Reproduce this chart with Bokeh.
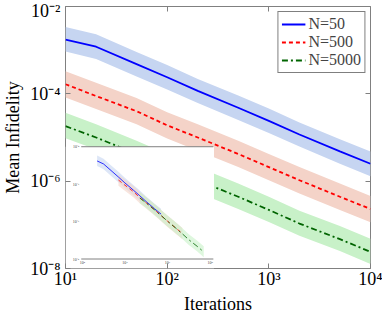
import numpy as np
from bokeh.plotting import figure
from bokeh.models import (Range1d, LogScale, LogAxis, FixedTicker, Legend, LegendItem,
                          ColumnDataSource, CustomJSTickFormatter, Title)
from bokeh.embed import file_html
from bokeh.resources import INLINE
from bokeh.core.properties import value

# ---------------- data ----------------
iterations = [10, 20, 50, 100, 200, 500, 1000, 2000, 5000, 10000]
series_names = ["N=50", "N=500", "N=5000"]
N_values = [50, 500, 5000]

mean_n50 = [1.74e-3, 1.2e-3, 4.8e-4, 2.4e-4, 1.17e-4, 4.8e-5, 2.4e-5, 1.17e-5, 4.8e-6, 2.5e-6]
upper_n50 = [3.4e-3, 2.3e-3, 9.1e-4, 4.6e-4, 2.2e-4, 9.1e-5, 4.6e-5, 2.2e-5, 9.1e-6, 4.8e-6]
lower_n50 = [9.3e-4, 6.3e-4, 2.5e-4, 1.26e-4, 6.2e-5, 2.5e-5, 1.26e-5, 6.2e-6, 2.5e-6, 1.3e-6]

mean_n500 = [1.66e-4, 8.9e-5, 4.0e-5, 1.9e-5, 1.0e-5, 4.2e-6, 2.1e-6, 1.05e-6, 4.4e-7, 2.3e-7]
upper_n500 = [3.3e-4, 1.8e-4, 8.0e-5, 3.8e-5, 2.0e-5, 8.4e-6, 4.2e-6, 2.1e-6, 8.8e-7, 4.6e-7]
lower_n500 = [8.2e-5, 4.5e-5, 2.0e-5, 9.5e-6, 5.0e-6, 2.1e-6, 1.05e-6, 5.2e-7, 2.2e-7, 1.15e-7]

mean_n5000 = [1.82e-5, 1.0e-5, 4.2e-6, 2.1e-6, 1.05e-6, 4.4e-7, 2.2e-7, 1.07e-7, 4.7e-8, 2.4e-8]
upper_n5000 = [3.7e-5, 2.0e-5, 8.4e-6, 4.2e-6, 2.1e-6, 8.8e-7, 4.4e-7, 2.1e-7, 9.4e-8, 4.8e-8]
lower_n5000 = [9.6e-6, 5.3e-6, 2.2e-6, 1.1e-6, 5.5e-7, 2.3e-7, 1.16e-7, 5.6e-8, 2.5e-8, 1.26e-8]

x_ticks = [10, 100, 1000, 10000]
x_tick_labels = ["10¹", "10²", "10³", "10⁴"]
y_ticks = [1e-8, 1e-6, 1e-4, 1e-2]
y_tick_labels = ["10⁻⁸", "10⁻⁶", "10⁻⁴", "10⁻²"]
x_title = "Iterations"
y_title = "Mean Infidelity"

# inset: infidelity against iterations x N
inset_x_ticks = [1e2, 1e4, 1e6, 1e8]
inset_x_labels = ["10²", "10⁴", "10⁶", "10⁸"]
inset_y_ticks = [1e-2, 1e-4, 1e-6, 1e-8]
inset_y_labels = ["10⁻²", "10⁻⁴", "10⁻⁶", "10⁻⁸"]

# ---------------- styles ----------------
line_colors = ["#0000ff", "#ff0000", "#006400"]
band_colors = ["#c6d5f1", "#f4d3c8", "#c8f1c8"]
dashes = ["solid", "4 3", "6 3 2 3"]
FONT = "Liberation Serif"

p = figure(width=382, height=313, x_axis_type="log", y_axis_type="log",
           x_range=Range1d(10, 1e4), y_range=Range1d(1e-8, 1e-2),
           output_backend="svg", toolbar_location=None,
           min_border_left=60, min_border_right=12, min_border_top=6, min_border_bottom=0)
p.grid.visible = False
p.outline_line_color = "#808080"
p.outline_line_width = 1
p.background_fill_color = "white"
p.border_fill_color = "white"

# inset coordinate system (log-log) placed in lower-left of the frame
p.extra_x_ranges = {"inset": Range1d(10 ** 1.2155, 10 ** 15.52)}
p.extra_y_ranges = {"inset": Range1d(10 ** -8.507, 10 ** 5.493)}
p.extra_x_scales = {"inset": LogScale()}
p.extra_y_scales = {"inset": LogScale()}

means = [mean_n50, mean_n500, mean_n5000]
uppers = [upper_n50, upper_n500, upper_n5000]
lowers = [lower_n50, lower_n500, lower_n5000]

line_renderers = []
for i in range(3):
    src = ColumnDataSource(dict(x=iterations, lo=lowers[i], hi=uppers[i]))
    p.varea(x="x", y1="lo", y2="hi", source=src, fill_color=band_colors[i], fill_alpha=1.0)
for i in range(3):
    src = ColumnDataSource(dict(x=iterations, m=means[i]))
    r = p.line(x="x", y="m", source=src, line_color=line_colors[i], line_width=1.8,
               line_dash=dashes[i])
    line_renderers.append(r)

# inset white background
p.quad(left=10 ** 1.2155, right=10 ** 8.18, bottom=10 ** -8.507, top=1e-2,
       x_range_name="inset", y_range_name="inset", fill_color="white", line_color=None)

for i in range(3):
    xs = np.array(iterations) * N_values[i]
    src = ColumnDataSource(dict(x=xs, lo=lowers[i], hi=uppers[i]))
    p.varea(x="x", y1="lo", y2="hi", source=src, fill_color=band_colors[i], fill_alpha=0.6,
            x_range_name="inset", y_range_name="inset")
for i in range(3):
    xs = np.array(iterations) * N_values[i]
    src = ColumnDataSource(dict(x=xs, m=means[i]))
    p.line(x="x", y="m", source=src, line_color=line_colors[i], line_width=0.8,
           line_dash=dashes[i], x_range_name="inset", y_range_name="inset")

# inset axis lines and labels
p.segment(x0=[10 ** 1.954] * 2, x1=[10 ** 8.15] * 2, y0=[1e-2, 1e-8], y1=[1e-2, 1e-8],
          x_range_name="inset", y_range_name="inset", line_color="#808080", line_width=1)
p.text(x=[10 ** 1.86] * 4, y=inset_y_ticks, text=inset_y_labels, x_range_name="inset",
       y_range_name="inset", text_font=value(FONT), text_font_size="4px",
       text_align="right", text_baseline="middle", text_color="#444444")
p.text(x=inset_x_ticks, y=[10 ** -8.187] * 4, text=inset_x_labels, x_range_name="inset",
       y_range_name="inset", text_font=value(FONT), text_font_size="4px",
       text_align="center", text_baseline="middle", text_color="#444444")

# main axes
xa = p.xaxis[0]
ya = p.yaxis[0]
xa.ticker = FixedTicker(ticks=x_ticks)
ya.ticker = FixedTicker(ticks=y_ticks)
xa.major_label_overrides = {t: l for t, l in zip(x_ticks, x_tick_labels)}
ya.major_label_overrides = {t: l for t, l in zip(y_ticks, y_tick_labels)}
for ax in (xa, ya):
    ax.axis_line_color = None
    ax.major_tick_in = 5
    ax.major_tick_out = 0
    ax.major_tick_line_color = "#808080"
    ax.minor_tick_line_color = None
    ax.major_label_text_font = FONT
    ax.major_label_text_font_size = "18px"
    ax.major_label_text_color = "black"
    ax.axis_label_text_font = FONT
    ax.axis_label_text_font_size = "18px"
    ax.axis_label_text_font_style = "normal"
    ax.axis_label_text_color = "black"
ya.axis_label = y_title
xa.major_label_standoff = 0
ya.major_label_standoff = 5
ya.axis_label_standoff = 4

# x-axis title as a title panel below the axis
p.add_layout(Title(text=x_title, align="center", text_font=FONT, text_font_size="18px",
                   text_font_style="normal", text_color="black", standoff=0), "below")

# mirror ticks on top and right
for side, tick in (("above", x_ticks), ("right", y_ticks)):
    ax = LogAxis(ticker=FixedTicker(ticks=tick), formatter=CustomJSTickFormatter(code="return ''"))
    ax.axis_line_color = None
    ax.major_tick_in = 5
    ax.major_tick_out = 0
    ax.major_tick_line_color = "#808080"
    ax.minor_tick_line_color = None
    ax.major_label_standoff = 0
    ax.major_label_text_font_size = "1px"
    p.add_layout(ax, side)

legend = Legend(items=[LegendItem(label=series_names[i], renderers=[line_renderers[i]]) for i in range(3)],
                location="top_right", margin=5, padding=3, spacing=0,
                label_text_font=FONT, label_text_font_size="16px", label_height=14,
                glyph_width=24, glyph_height=14, label_standoff=3,
                border_line_color="black", border_line_width=1, background_fill_alpha=1.0)
p.add_layout(legend)

open("out.html", "w").write(file_html(p, INLINE))
